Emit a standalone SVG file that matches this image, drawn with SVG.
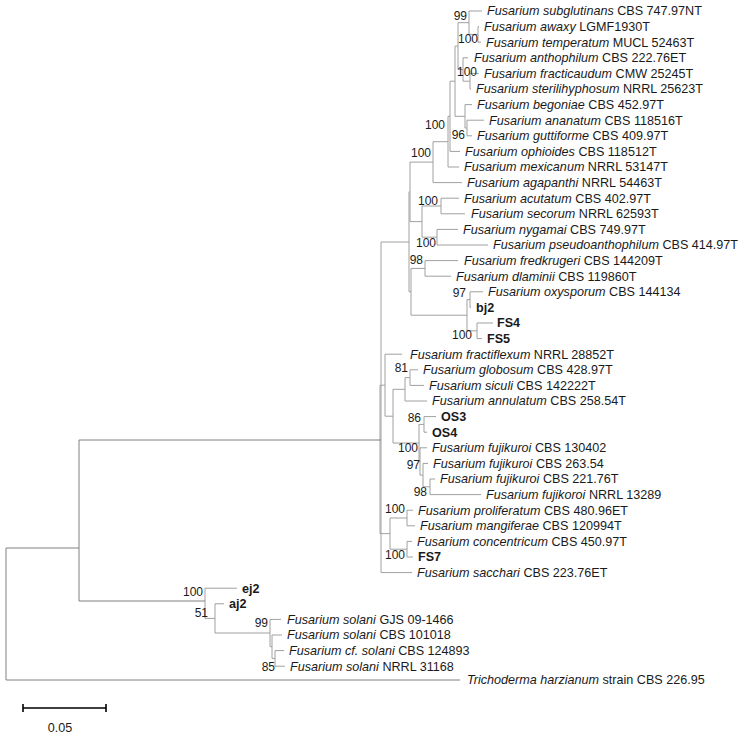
<svg xmlns="http://www.w3.org/2000/svg" width="744" height="740" viewBox="0 0 744 740">
<style>
.t{font-family:"Liberation Sans",Arial,sans-serif;font-size:12.6px;fill:#1a1a1a}
.i{font-style:italic}
.bd{font-weight:bold}
.bs{font-family:"Liberation Sans",Arial,sans-serif;font-size:12px;fill:#1a1a1a;text-anchor:end}
.ln{fill:none;stroke:#a0a0a0;stroke-width:1}
.dk{fill:none;stroke:#808080;stroke-width:1}
.sc{fill:none;stroke:#000;stroke-width:1.6}
</style>
<rect width="744" height="740" fill="#fff"/>
<g id="connectors">
<path class="ln" d="M469 11H482M469 11V34.4M469 34.4H478M478 26.6V42.2M478 26.6H479M478 42.2H481
M470 73.4V89M470 73.4H479M470 89H471M463 57.8V81.2M463 57.8H468M463 81.2H470
M458 22.7V69.5M458 22.7H469M458 69.5H463
M467 120.2V135.8M467 120.2H484M467 135.8H472M465 104.6V128M465 104.6H472M465 128H467
M455 46.1V116.3M455 46.1H458M455 116.3H465
M450 81.2V151.4M450 81.2H455M450 151.4H460
M448 116.3V167M448 116.3H450M448 167H459
M433 141.7V182.6M433 141.7H448M433 182.6H462
M441 198.2V213.8M441 198.2H459M441 213.8H465
M437 229.4V245M437 229.4H458M437 245H488
M422 206V237.2M422 206H441M422 237.2H437
M410 162.1V221.6M410 162.1H433M410 221.6H422
M425 260.6V276.2M425 260.6H458M425 276.2H451
M470 291.8V307.4M470 291.8H483M470 307.4H471
M477 323V338.6M477 323H493M477 338.6H482
M467 299.6V330.8M467 299.6H470M467 330.8H477
M411 268.4V315.2M411 268.4H425M411 315.2H467
M409 191.9V291.8M409 191.9H410M409 291.8H411
M410 369.8V385.4M410 369.8H418M410 385.4H424
M405 377.6V401M405 377.6H410M405 401H427
M424 416.6V432.2M424 416.6H436M424 432.2H427
M430 479V494.6M430 479H435M430 494.6H481
M423 463.4V486.8M423 463.4H428M423 486.8H430
M420 447.8V475.1M420 447.8H427M420 475.1H423
M419 424.4V461.5M419 424.4H424M419 461.5H420
M393 389.3V443M393 389.3H405M393 443H419
M385 354.2V416.2M385 354.2H402M385 416.2H393
M407 510.2V525.8M407 510.2H413M407 525.8H415
M407 541.4V557M407 541.4H412M407 557H413
M390 518V549.2M390 518H407M390 549.2H407
M380 385.2V533.6M380 385.2H385M380 533.6H390
M381 242V572.6M381 242H409M381 572.6H412
M205 588.2V618.4M205 588.2H237M205 618.4H215
M215 603.8V633M215 603.8H224M215 633H270
M275 650.6V666.2M275 650.6H284M275 666.2H285
M272 635V658.4M272 635H282M272 658.4H275
M270 619.4V646.7M270 619.4H281M270 646.7H272"/>
<path class="dk" d="M6 548V680M6 548H79M79 440V601M79 440H381M79 601H205M6 680H460"/>
</g>
<g id="labels">
<text class="bs" x="467" y="20">99</text>
<text class="bs" x="478" y="43">100</text>
<text class="bs" x="477" y="76">100</text>
<text class="bs" x="445" y="129">100</text>
<text class="bs" x="465" y="139">96</text>
<text class="bs" x="431" y="157">100</text>
<text class="bs" x="438" y="205">100</text>
<text class="bs" x="436" y="247">100</text>
<text class="bs" x="423" y="264">98</text>
<text class="bs" x="466" y="297">97</text>
<text class="bs" x="472" y="339">100</text>
<text class="bs" x="408" y="372">81</text>
<text class="bs" x="421" y="422">86</text>
<text class="bs" x="418" y="452">100</text>
<text class="bs" x="420" y="469">97</text>
<text class="bs" x="427" y="496">98</text>
<text class="bs" x="405" y="513">100</text>
<text class="bs" x="405" y="559">100</text>
<text class="bs" x="203" y="596">100</text>
<text class="bs" x="208" y="617">51</text>
<text class="bs" x="268" y="627">99</text>
<text class="bs" x="275" y="671">85</text>
</g>
<g id="leaves">
<g id="n0"><text class="t" x="487" y="15.4"><tspan class="i">Fusarium subglutinans</tspan> CBS 747.97NT</text></g>
<g id="n1"><text class="t" x="484" y="31"><tspan class="i">Fusarium awaxy</tspan> LGMF1930T</text></g>
<g id="n2"><text class="t" x="486" y="46.6"><tspan class="i">Fusarium temperatum</tspan> MUCL 52463T</text></g>
<g id="n3"><text class="t" x="474" y="62.2"><tspan class="i">Fusarium anthophilum</tspan> CBS 222.76ET</text></g>
<g id="n4"><text class="t" x="484" y="77.8"><tspan class="i">Fusarium fracticaudum</tspan> CMW 25245T</text></g>
<g id="n5"><text class="t" x="476" y="93.4"><tspan class="i">Fusarium sterilihyphosum</tspan> NRRL 25623T</text></g>
<g id="n6"><text class="t" x="477" y="109"><tspan class="i">Fusarium begoniae</tspan> CBS 452.97T</text></g>
<g id="n7"><text class="t" x="489" y="124.6"><tspan class="i">Fusarium ananatum</tspan> CBS 118516T</text></g>
<g id="n8"><text class="t" x="477" y="140.2"><tspan class="i">Fusarium guttiforme</tspan> CBS 409.97T</text></g>
<g id="n9"><text class="t" x="465" y="155.8"><tspan class="i">Fusarium ophioides</tspan> CBS 118512T</text></g>
<g id="n10"><text class="t" x="464" y="171.4"><tspan class="i">Fusarium mexicanum</tspan> NRRL 53147T</text></g>
<g id="n11"><text class="t" x="467" y="187"><tspan class="i">Fusarium agapanthi</tspan> NRRL 54463T</text></g>
<g id="n12"><text class="t" x="464" y="202.6"><tspan class="i">Fusarium acutatum</tspan> CBS 402.97T</text></g>
<g id="n13"><text class="t" x="471" y="218.2"><tspan class="i">Fusarium secorum</tspan> NRRL 62593T</text></g>
<g id="n14"><text class="t" x="463" y="233.8"><tspan class="i">Fusarium nygamai</tspan> CBS 749.97T</text></g>
<g id="n15"><text class="t" x="493" y="249.4"><tspan class="i">Fusarium pseudoanthophilum</tspan> CBS 414.97T</text></g>
<g id="n16"><text class="t" x="464" y="265"><tspan class="i">Fusarium fredkrugeri</tspan> CBS 144209T</text></g>
<g id="n17"><text class="t" x="456" y="280.6"><tspan class="i">Fusarium dlaminii</tspan> CBS 119860T</text></g>
<g id="n18"><text class="t" x="488" y="296.2"><tspan class="i">Fusarium oxysporum</tspan> CBS 144134</text></g>
<g id="n19"><text class="t bd" x="476" y="311.8">bj2</text></g>
<g id="n20"><text class="t bd" x="497" y="327.4">FS4</text></g>
<g id="n21"><text class="t bd" x="487" y="343">FS5</text></g>
<g id="n22"><text class="t" x="410" y="358.6"><tspan class="i">Fusarium fractiflexum</tspan> NRRL 28852T</text></g>
<g id="n23"><text class="t" x="423" y="374.2"><tspan class="i">Fusarium globosum</tspan> CBS 428.97T</text></g>
<g id="n24"><text class="t" x="429" y="389.8"><tspan class="i">Fusarium siculi</tspan> CBS 142222T</text></g>
<g id="n25"><text class="t" x="432" y="405.4"><tspan class="i">Fusarium annulatum</tspan> CBS 258.54T</text></g>
<g id="n26"><text class="t bd" x="441" y="421">OS3</text></g>
<g id="n27"><text class="t bd" x="432" y="436.6">OS4</text></g>
<g id="n28"><text class="t" x="432" y="452.2"><tspan class="i">Fusarium fujikuroi</tspan> CBS 130402</text></g>
<g id="n29"><text class="t" x="433" y="467.8"><tspan class="i">Fusarium fujikuroi</tspan> CBS 263.54</text></g>
<g id="n30"><text class="t" x="440" y="483.4"><tspan class="i">Fusarium fujikuroi</tspan> CBS 221.76T</text></g>
<g id="n31"><text class="t" x="486" y="499"><tspan class="i">Fusarium fujikoroi</tspan> NRRL 13289</text></g>
<g id="n32"><text class="t" x="418" y="514.6"><tspan class="i">Fusarium proliferatum</tspan> CBS 480.96ET</text></g>
<g id="n33"><text class="t" x="420" y="530.2"><tspan class="i">Fusarium mangiferae</tspan> CBS 120994T</text></g>
<g id="n34"><text class="t" x="417" y="545.8"><tspan class="i">Fusarium concentricum</tspan> CBS 450.97T</text></g>
<g id="n35"><text class="t bd" x="418" y="561.4">FS7</text></g>
<g id="n36"><text class="t" x="417" y="577"><tspan class="i">Fusarium sacchari</tspan> CBS 223.76ET</text></g>
<g id="n37"><text class="t bd" x="242" y="592.6">ej2</text></g>
<g id="n38"><text class="t bd" x="229" y="608.2">aj2</text></g>
<g id="n39"><text class="t" x="287" y="623.8"><tspan class="i">Fusarium solani</tspan> GJS 09-1466</text></g>
<g id="n40"><text class="t" x="287" y="639.4"><tspan class="i">Fusarium solani</tspan> CBS 101018</text></g>
<g id="n41"><text class="t" x="289" y="655"><tspan class="i">Fusarium cf. solani</tspan> CBS 124893</text></g>
<g id="n42"><text class="t" x="290" y="670.6"><tspan class="i">Fusarium solani</tspan> NRRL 31168</text></g>
<g id="n43"><text class="t" x="467" y="684.4"><tspan class="i">Trichoderma harzianum</tspan> strain CBS 226.95</text></g>
</g>
<g id="scalebar">
<path class="sc" d="M23 708H106M23 704V712M106 704V712"/>
<text class="t" x="60" y="732" text-anchor="middle">0.05</text>
</g>
</svg>
